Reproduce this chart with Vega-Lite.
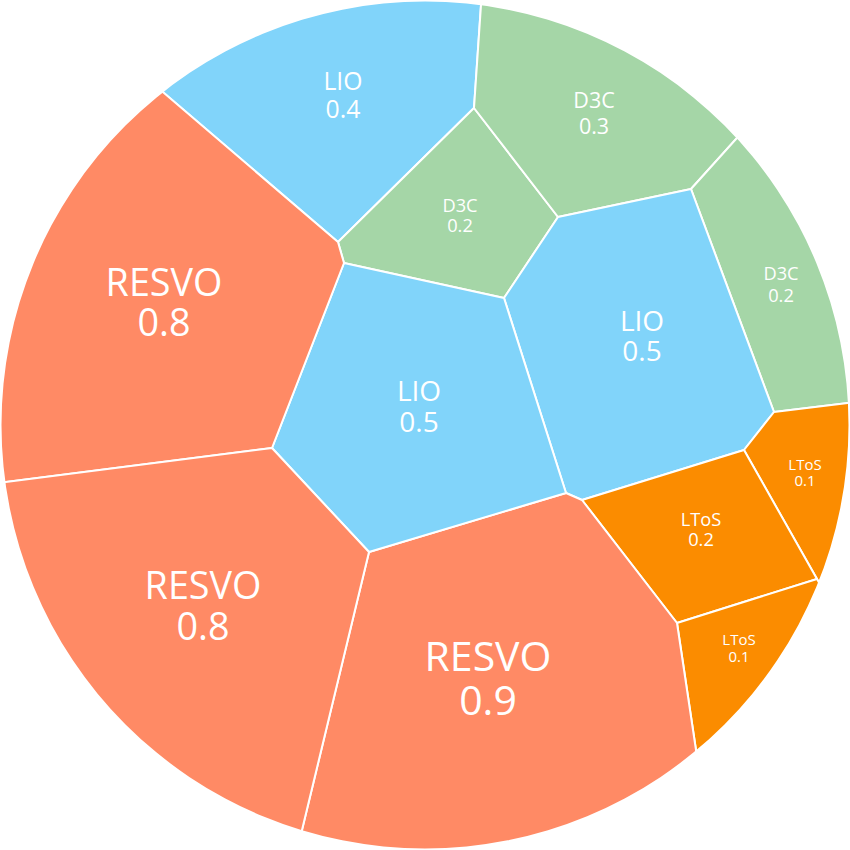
{
  "$schema": "https://vega.github.io/schema/vega-lite/v6.json",
  "width": 850,
  "height": 850,
  "autosize": "none",
  "padding": 0,
  "background": "white",
  "config": {"view": {"stroke": null}},
  "datasets": {
    "cells": [
      {"cell": "c1", "group": "LIO", "i": 0, "x": 338, "y": 242},
      {"cell": "c1", "group": "LIO", "i": 1, "x": -100, "y": -133},
      {"cell": "c1", "group": "LIO", "i": 2, "x": 495, "y": -201},
      {"cell": "c1", "group": "LIO", "i": 3, "x": 474, "y": 108},

      {"cell": "c2", "group": "D3C", "i": 0, "x": 338, "y": 242},
      {"cell": "c2", "group": "D3C", "i": 1, "x": 474, "y": 108},
      {"cell": "c2", "group": "D3C", "i": 2, "x": 558, "y": 217},
      {"cell": "c2", "group": "D3C", "i": 3, "x": 504, "y": 298},
      {"cell": "c2", "group": "D3C", "i": 4, "x": 344, "y": 263},

      {"cell": "c3", "group": "D3C", "i": 0, "x": 474, "y": 108},
      {"cell": "c3", "group": "D3C", "i": 1, "x": 495, "y": -201},
      {"cell": "c3", "group": "D3C", "i": 2, "x": 875, "y": -15},
      {"cell": "c3", "group": "D3C", "i": 3, "x": 691, "y": 189},
      {"cell": "c3", "group": "D3C", "i": 4, "x": 558, "y": 217},

      {"cell": "c4", "group": "D3C", "i": 0, "x": 691, "y": 189},
      {"cell": "c4", "group": "D3C", "i": 1, "x": 875, "y": -15},
      {"cell": "c4", "group": "D3C", "i": 2, "x": 1070, "y": 376},
      {"cell": "c4", "group": "D3C", "i": 3, "x": 774, "y": 412},

      {"cell": "c5", "group": "LIO", "i": 0, "x": 558, "y": 217},
      {"cell": "c5", "group": "LIO", "i": 1, "x": 691, "y": 189},
      {"cell": "c5", "group": "LIO", "i": 2, "x": 774, "y": 412},
      {"cell": "c5", "group": "LIO", "i": 3, "x": 744, "y": 450},
      {"cell": "c5", "group": "LIO", "i": 4, "x": 582, "y": 500},
      {"cell": "c5", "group": "LIO", "i": 5, "x": 566, "y": 493},
      {"cell": "c5", "group": "LIO", "i": 6, "x": 504, "y": 298},

      {"cell": "c6", "group": "LToS", "i": 0, "x": 774, "y": 412},
      {"cell": "c6", "group": "LToS", "i": 1, "x": 1070, "y": 376},
      {"cell": "c6", "group": "LToS", "i": 2, "x": 927, "y": 772},
      {"cell": "c6", "group": "LToS", "i": 3, "x": 817, "y": 579},
      {"cell": "c6", "group": "LToS", "i": 4, "x": 744, "y": 450},

      {"cell": "c7", "group": "LToS", "i": 0, "x": 744, "y": 450},
      {"cell": "c7", "group": "LToS", "i": 1, "x": 817, "y": 579},
      {"cell": "c7", "group": "LToS", "i": 2, "x": 677, "y": 623},
      {"cell": "c7", "group": "LToS", "i": 3, "x": 582, "y": 500},

      {"cell": "c8", "group": "LToS", "i": 0, "x": 677, "y": 623},
      {"cell": "c8", "group": "LToS", "i": 1, "x": 817, "y": 579},
      {"cell": "c8", "group": "LToS", "i": 2, "x": 927, "y": 772},
      {"cell": "c8", "group": "LToS", "i": 3, "x": 734, "y": 1004},

      {"cell": "c9", "group": "RESVO", "i": 0, "x": 369, "y": 552},
      {"cell": "c9", "group": "RESVO", "i": 1, "x": 566, "y": 493},
      {"cell": "c9", "group": "RESVO", "i": 2, "x": 582, "y": 500},
      {"cell": "c9", "group": "RESVO", "i": 3, "x": 677, "y": 623},
      {"cell": "c9", "group": "RESVO", "i": 4, "x": 734, "y": 1004},
      {"cell": "c9", "group": "RESVO", "i": 5, "x": 235, "y": 1108},

      {"cell": "c10", "group": "LIO", "i": 0, "x": 344, "y": 263},
      {"cell": "c10", "group": "LIO", "i": 1, "x": 504, "y": 298},
      {"cell": "c10", "group": "LIO", "i": 2, "x": 566, "y": 493},
      {"cell": "c10", "group": "LIO", "i": 3, "x": 369, "y": 552},
      {"cell": "c10", "group": "LIO", "i": 4, "x": 272, "y": 448},

      {"cell": "c11", "group": "RESVO", "i": 0, "x": 338, "y": 242},
      {"cell": "c11", "group": "RESVO", "i": 1, "x": 344, "y": 263},
      {"cell": "c11", "group": "RESVO", "i": 2, "x": 272, "y": 448},
      {"cell": "c11", "group": "RESVO", "i": 3, "x": -262, "y": 516},
      {"cell": "c11", "group": "RESVO", "i": 4, "x": -100, "y": -133},

      {"cell": "c12", "group": "RESVO", "i": 0, "x": 272, "y": 448},
      {"cell": "c12", "group": "RESVO", "i": 1, "x": 369, "y": 552},
      {"cell": "c12", "group": "RESVO", "i": 2, "x": 235, "y": 1108},
      {"cell": "c12", "group": "RESVO", "i": 3, "x": -262, "y": 516}
    ],
    "labels": [
      {"name": "LIO", "value": 0.4, "x": 343, "yName": 83, "yValue": 111},
      {"name": "D3C", "value": 0.2, "x": 460, "yName": 207, "yValue": 227},
      {"name": "D3C", "value": 0.3, "x": 594, "yName": 102, "yValue": 128},
      {"name": "D3C", "value": 0.2, "x": 781, "yName": 275, "yValue": 297},
      {"name": "LIO", "value": 0.5, "x": 642, "yName": 323, "yValue": 353},
      {"name": "LIO", "value": 0.5, "x": 419, "yName": 393, "yValue": 424},
      {"name": "RESVO", "value": 0.8, "x": 164, "yName": 285, "yValue": 325},
      {"name": "RESVO", "value": 0.8, "x": 203, "yName": 588, "yValue": 629},
      {"name": "RESVO", "value": 0.9, "x": 488, "yName": 659, "yValue": 703},
      {"name": "LToS", "value": 0.1, "x": 805, "yName": 465, "yValue": 481},
      {"name": "LToS", "value": 0.2, "x": 701, "yName": 521, "yValue": 541},
      {"name": "LToS", "value": 0.1, "x": 739, "yName": 640, "yValue": 657}
    ]
  },
  "layer": [
    {
      "data": {"name": "cells"},
      "mark": {"type": "line", "interpolate": "linear-closed", "stroke": "white", "strokeWidth": 2, "strokeJoin": "round", "clip": true, "fillOpacity": 1},
      "encoding": {
        "x": {"field": "x", "type": "quantitative", "scale": {"domain": [0, 850], "nice": false, "zero": false}, "axis": null},
        "y": {"field": "y", "type": "quantitative", "scale": {"domain": [0, 850], "nice": false, "zero": false, "reverse": true}, "axis": null},
        "detail": {"field": "cell"},
        "order": {"field": "i", "type": "quantitative"},
        "fill": {"field": "group", "type": "nominal", "scale": {"domain": ["LIO", "D3C", "RESVO", "LToS"], "range": ["#81D4FA", "#A5D6A7", "#FF8A65", "#FB8C00"]}, "legend": null}
      }
    },
    {
      "data": {"values": [{"ring": "mask"}]},
      "mark": {"type": "arc", "theta": 0, "theta2": 6.2832, "radius": 1000, "radius2": 423.5, "fill": "white", "stroke": null},
      "encoding": {}
    },
    {
      "data": {"name": "labels"},
      "mark": {"type": "text", "color": "white", "font": "Open Sans", "baseline": "middle", "align": "center"},
      "encoding": {
        "x": {"field": "x", "type": "quantitative"},
        "y": {"field": "yName", "type": "quantitative"},
        "text": {"field": "name"},
        "size": {"field": "value", "type": "quantitative", "scale": {"domain": [0.1, 0.9], "range": [15, 41]}, "legend": null}
      }
    },
    {
      "data": {"name": "labels"},
      "mark": {"type": "text", "color": "white", "font": "Open Sans", "baseline": "middle", "align": "center"},
      "encoding": {
        "x": {"field": "x", "type": "quantitative"},
        "y": {"field": "yValue", "type": "quantitative"},
        "text": {"field": "value", "format": ".1f"},
        "size": {"field": "value", "type": "quantitative", "scale": {"domain": [0.1, 0.9], "range": [15, 41]}, "legend": null}
      }
    }
  ]
}
